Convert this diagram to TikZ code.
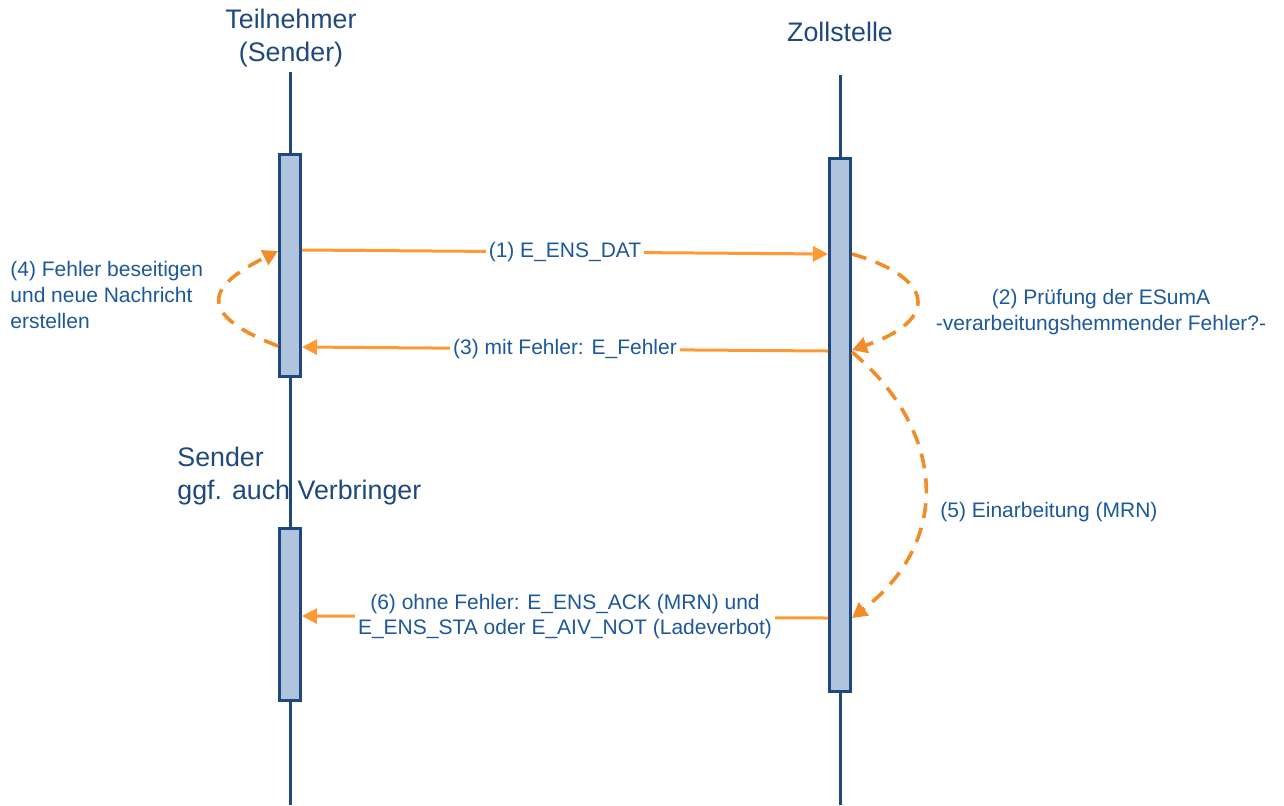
\documentclass[tikz,border=0pt]{standalone}
\usepackage{fontspec}
\setmainfont{Liberation Sans}
\usetikzlibrary{arrows.meta, calc, positioning}
\definecolor{lineBlue}{RGB}{31,73,125}
\definecolor{barFill}{RGB}{176,196,222}
\definecolor{msgOrange}{RGB}{255,153,51}
\definecolor{loopOrange}{RGB}{242,140,40}
\definecolor{txtBlue}{RGB}{28,88,155}
\tikzset{
    lifeline/.style={draw=lineBlue, line width=1.5pt},
    actBar/.style={rectangle, draw=lineBlue, line width=1.5pt, fill=barFill, minimum width=10.5pt, inner sep=0pt},
    msgArrow/.style={-{Triangle[length=7.5pt, width=7.5pt]}, draw=msgOrange, line width=1.5pt},
    loopArrow/.style={-{Triangle[length=7.5pt, width=8pt]}, draw=loopOrange, line width=1.8pt, dash pattern=on 7.5pt off 5pt},
    msgLabel/.style={fill=white, text=txtBlue, font=\fontsize{10.5}{12.5}\selectfont, inner sep=1.5pt, align=center},
    noteLabel/.style={text=txtBlue, font=\fontsize{10.5}{13}\selectfont, inner sep=0pt},
    headLabel/.style={text=lineBlue, font=\fontsize{13.4}{16.5}\selectfont, inner sep=0pt},
}
\newcommand{\drawMsg}[3]{
    \draw[msgArrow] (#1) -- node[msgLabel] {#3} (#2);
}

\begin{document}
\begin{tikzpicture}[x=0.5pt, y=-0.5pt]
    \useasboundingbox (0,0) rectangle (1284,805);

    % Lebenslinien
    \coordinate (teilTop) at (290,72); \coordinate (teilBot) at (290,805);
    \coordinate (zollTop) at (840,75); \coordinate (zollBot) at (840,805);
    \draw[lifeline] (teilTop) -- (teilBot);
    \draw[lifeline] (zollTop) -- (zollBot);

    % Aktivierungsbalken
    \node[actBar, minimum height=111pt] (barA) at (290,265.5) {};
    \node[actBar, minimum height=86pt] (barB) at (290,614.5) {};
    \node[actBar, minimum height=266.5pt] (barZ) at (840,425) {};

    % Ueberschriften
    \node[headLabel, align=center] (teil) at (291,38) {Teilnehmer\\(Sender)};
    \node[headLabel] (zoll) at (840,32) {Zollstelle};
    \node[headLabel, align=left, anchor=west] (sender) at (177,476) {Sender\\ggf. auch Verbringer};

    % 1. E_ENS_DAT
    \coordinate (m1a) at (barA.east |- 0,250); \coordinate (m1b) at (barZ.west |- 0,254);
    \drawMsg{m1a}{m1b}{(1) E\_ENS\_DAT}

    % 3. mit Fehler
    \coordinate (m3a) at (barZ.west |- 0,351); \coordinate (m3b) at (barA.east |- 0,347);
    \drawMsg{m3a}{m3b}{(3) mit Fehler: E\_Fehler}

    % 6. ohne Fehler
    \coordinate (m6a) at (barZ.west |- 0,618); \coordinate (m6b) at (barB.east |- 0,616);
    \drawMsg{m6a}{m6b}{(6) ohne Fehler: E\_ENS\_ACK (MRN) und\\E\_ENS\_STA oder E\_AIV\_NOT (Ladeverbot)}

    % 2. Pruefung
    \coordinate (l2a) at (barZ.east |- 0,254); \coordinate (l2b) at (barZ.east |- 0,350);
    \draw[loopArrow] (l2a) .. controls (935,278) and (940,320) .. (l2b);
    \node[noteLabel, align=center] (pruef) at (1101,312) {(2) Prüfung der ESumA\\-verarbeitungshemmender Fehler?-};

    % 4. Fehler beseitigen
    \coordinate (l4a) at (barA.west |- 0,346); \coordinate (l4b) at (barA.west |- 0,251);
    \draw[loopArrow] (l4a) .. controls (190,312) and (212,284) .. (l4b);
    \node[noteLabel, align=left, anchor=west] (fehler) at (10,295) {(4) Fehler beseitigen\\und neue Nachricht\\erstellen};

    % 5. Einarbeitung
    \coordinate (l5a) at (barZ.east |- 0,352); \coordinate (l5b) at (barZ.east |- 0,618);
    \draw[loopArrow] (l5a) .. controls (945,430) and (953,540) .. (l5b);
    \node[noteLabel, anchor=west] (einarb) at (940,512) {(5) Einarbeitung (MRN)};

\end{tikzpicture}
\end{document}
